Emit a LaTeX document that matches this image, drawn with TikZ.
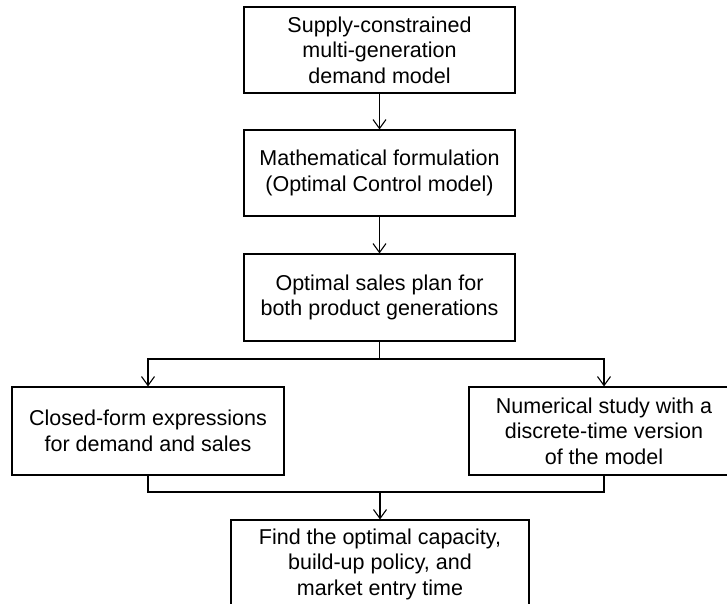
\documentclass[tikz,border=0pt]{standalone}
\usepackage{fontspec}
\setmainfont{Liberation Sans}
\usetikzlibrary{arrows.meta}
\begin{document}
\begin{tikzpicture}[x=1pt,y=1pt,
  box/.style={draw=black,line width=1.1pt,align=center,inner sep=0pt,
    font=\fontsize{21.5}{25.5}\selectfont,fill=white},
  conn/.style={draw=black,line width=1.1pt},
  arr/.style={conn,-{Straight Barb[length=9pt,width=13pt,line width=1.1pt]}}]
\useasboundingbox (0,0) rectangle (727,-604);
\fill[white] (0,0) rectangle (727,-604);
\node[box,minimum width=271pt,minimum height=86pt] (b1) at (379.5,-50) {Supply-constrained\\multi-generation\\demand model};
\node[box,minimum width=271pt,minimum height=86pt] (b2) at (379.5,-173) {Mathematical formulation\\(Optimal Control model)};
\node[box,minimum width=271pt,minimum height=87pt] (b3) at (379.5,-297.5) {Optimal sales plan for\\both product generations};
\node[box,minimum width=272pt,minimum height=88pt] (l) at (148,-431) {Closed-form expressions\\for demand and sales};
\node[box,minimum width=270pt,minimum height=88pt] (r) at (604,-431) {Numerical study with a\\discrete-time version\\of the model};
\node[box,minimum width=298pt,minimum height=88pt] (bot) at (380,-564) {Find the optimal capacity,\\build-up policy, and\\market entry time};
\coordinate (m1) at (379.5,-359);
\coordinate (m2) at (380,-492);
\draw[arr] (b1) -- (b2);
\draw[arr] (b2) -- (b3);
\draw[conn] (b3.south) -- (m1);
\draw[arr] (m1) -| (l.north);
\draw[arr] (m1) -| (r.north);
\draw[conn] (l.south) |- (m2) -| (r.south);
\draw[arr] (m2) -- (bot.north);
\end{tikzpicture}
\end{document}
